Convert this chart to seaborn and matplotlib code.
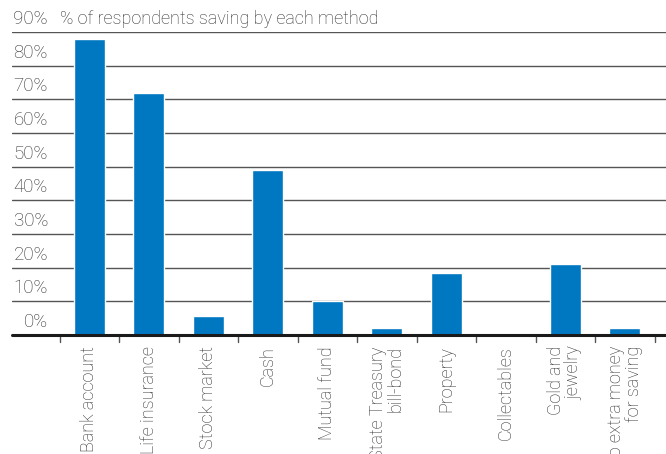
import matplotlib
matplotlib.use("Agg")
import matplotlib.pyplot as plt
import seaborn as sns
import pandas as pd

categories = ["Bank account", "Life insurance", "Stock market", "Cash", "Mutual fund",
              "State Treasury\nbill-bond", "Property", "Collectables", "Gold and\njewelry",
              "No extra money\nfor saving"]
values = [88, 72, 5.6, 49, 10, 2, 18.3, 0, 21, 2]
yticks = [0, 10, 20, 30, 40, 50, 60, 70, 80, 90]
title = "% of respondents saving by each method"

sns.set_theme(style="white")
plt.rcParams['font.family'] = ['Roboto', 'DejaVu Sans']

TXT = "#2e2e2e"
BLUE = "#0077c1"
FS = 13
FW = "light"

fig = plt.figure(figsize=(6.66, 4.54), dpi=100)
ax = fig.add_axes([12/666, (454-335)/454, 654/666, 303/454])

df = pd.DataFrame({"cat": categories, "val": values})
sns.barplot(data=df, x="cat", y="val", color=BLUE, saturation=1, width=0.52, ax=ax, zorder=3)

ax.set_xlim(-1.30, 9.69)
ax.set_ylim(0, 90)
for s in ax.spines.values():
    s.set_visible(False)
ax.set_xticks([])
ax.set_yticks([])
ax.set_xlabel("")
ax.set_ylabel("")

# gridlines
for v in yticks[1:]:
    ax.axhline(v, color="#555555", lw=1.0, zorder=1)
ax.axhline(0, color="#1a1a1a", lw=2.2, zorder=4, clip_on=False)

# y labels above gridlines
for v in yticks:
    ax.annotate(f"{v}%", xy=(0, v), xycoords=("axes fraction", "data"),
                xytext=(36, 4), textcoords="offset pixels", ha="right", va="bottom",
                fontsize=FS + 0.5, color=TXT, fontweight=FW)
ax.annotate(title, xy=(0, 90), xycoords=("axes fraction", "data"),
            xytext=(48, 4), textcoords="offset pixels", ha="left", va="bottom",
            fontsize=FS, color=TXT, fontweight=FW)

# category boundary ticks
for i in range(len(categories) + 1):
    b = i - 0.5
    ax.plot([b, b], [-0.3, -2.2], color="#555555", lw=1, clip_on=False, zorder=2)

# category labels
for i, c in enumerate(categories):
    ax.annotate(c, xy=(i, 0), xycoords="data", xytext=(0, -11), textcoords="offset pixels",
                rotation=90, ha="center", va="top", multialignment="right",
                fontsize=FS, color=TXT, fontweight=FW, linespacing=1.0,
                annotation_clip=False)

fig.savefig("out.png", dpi=100)
